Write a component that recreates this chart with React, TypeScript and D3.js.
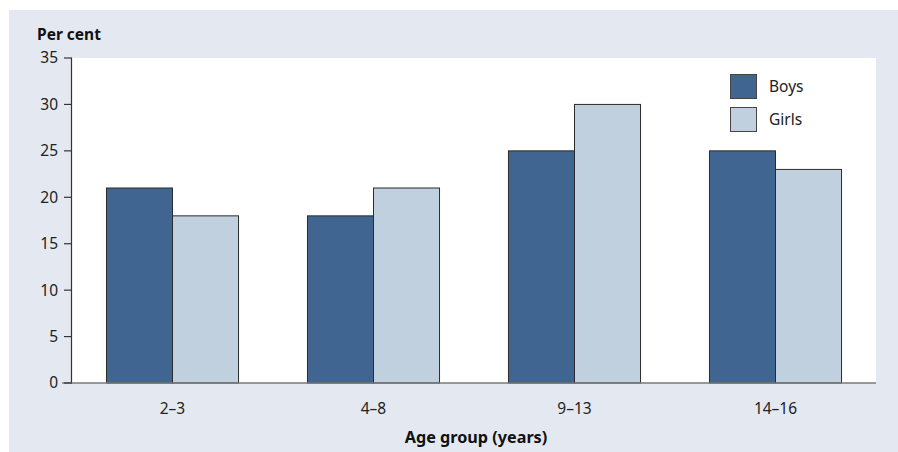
import React from "react";
import * as d3 from "d3";

const categories = ["2–3", "4–8", "9–13", "14–16"];
const seriesNames = ["Boys", "Girls"];
const boys = [21, 18, 25, 25];
const girls = [18, 21, 30, 23];
const yTicks = [0, 5, 10, 15, 20, 25, 30, 35];
const colors = ["#3f6590", "#c0d0df"];

export default function App() {
  const W = 898, H = 452;
  const left = 72, right = 876, top = 58, bottom = 383;
  const x = d3.scaleBand<string>().domain(categories).range([left, right]).paddingInner(0.343).paddingOuter(0.1715);
  const xs = d3.scaleBand<string>().domain(seriesNames).range([0, x.bandwidth()]);
  const y = d3.scaleLinear().domain([0, 35]).range([bottom, top]);
  const series = [boys, girls];
  const font = "'Noto Sans', 'Open Sans', sans-serif";
  return (
    <svg width={W} height={H} style={{ position: "absolute", left: 0, top: 0 }} fontFamily={font}>
      <rect x={0} y={0} width={W} height={H} fill="#ffffff" />
      <rect x={9} y={10} width={W - 9} height={H - 10} fill="#e4e9f1" />
      <rect x={left} y={top} width={right - left} height={bottom - top} fill="#ffffff" />
      <text x={37} y={40} fontSize={15.5} fontWeight="bold" fill="#111">Per cent</text>
      {series.map((vals, si) =>
        vals.map((v, i) => (
          <rect
            key={`${si}-${i}`}
            x={(x(categories[i]) as number) + (xs(seriesNames[si]) as number)}
            y={y(v)}
            width={xs.bandwidth()}
            height={y(0) - y(v)}
            fill={colors[si]}
            stroke="#2b2b2b"
            strokeWidth={1}
          />
        ))
      )}
      <line x1={left - 0.5} x2={left - 0.5} y1={top} y2={bottom} stroke="#333" strokeWidth={1.2} />
      <line x1={62} x2={right} y1={bottom} y2={bottom} stroke="#7a7a7a" strokeWidth={1.5} />
      {yTicks.map((t) => (
        <g key={t}>
          <line x1={64} x2={left} y1={y(t)} y2={y(t)} stroke="#333" strokeWidth={1.2} />
          <text x={58} y={y(t)} dy="0.35em" textAnchor="end" fontSize={15.5} fill="#222">{t}</text>
        </g>
      ))}
      {categories.map((c) => (
        <text key={c} x={(x(c) as number) + x.bandwidth() / 2} y={414} textAnchor="middle" fontSize={15.5} fill="#222">{c}</text>
      ))}
      <text x={476} y={443} textAnchor="middle" fontSize={16.2} fontWeight="bold" fill="#111">Age group (years)</text>
      {seriesNames.map((s, i) => (
        <g key={s}>
          <rect x={730.5} y={74.5 + i * 33} width={26} height={24} fill={colors[i]} stroke="#444" strokeWidth={1} />
          <text x={769} y={87 + i * 33} dy="0.35em" fontSize={15.5} fill="#222">{s}</text>
        </g>
      ))}
    </svg>
  );
}
